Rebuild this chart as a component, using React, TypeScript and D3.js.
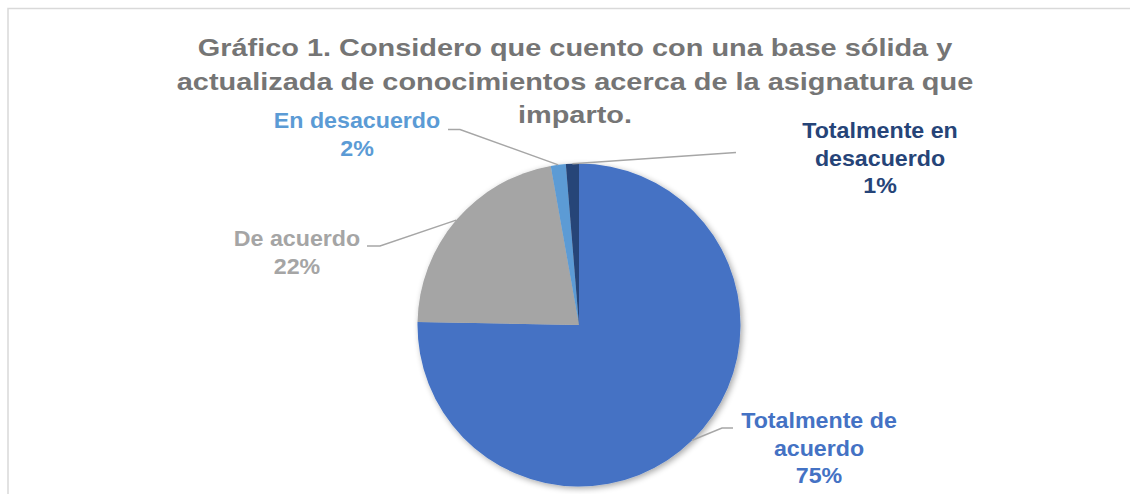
import React from "react";
import * as d3 from "d3";

const categories = ["Totalmente de acuerdo", "De acuerdo", "En desacuerdo", "Totalmente en desacuerdo"];
const values = [75.3, 21.9, 1.5, 1.3];
const percentLabels = ["75%", "22%", "2%", "1%"];
const labelLines = [["Totalmente de", "acuerdo"], ["De acuerdo"], ["En desacuerdo"], ["Totalmente en", "desacuerdo"]];
const titleLines = [
  "Gráfico 1. Considero que cuento con una base sólida y",
  "actualizada de conocimientos acerca de la asignatura que",
  "imparto.",
];

const colors = ["#4472C4", "#A5A5A5", "#5B9BD5", "#264478"];

// layout (style) for labels: center x, first baseline y, leader elbow & end near text
const labelLayout = [
  { x: 819, y: 428, elbow: [722, 428], end: [733, 428] },
  { x: 297, y: 246, elbow: [380, 246], end: [367, 246] },
  { x: 357, y: 128, elbow: [460, 129.5], end: [448, 129.5] },
  { x: 880, y: 138, elbow: [736, 152.5], end: [736, 152.5] },
];

const W = 1130;
const H = 494;
const cx = 579;
const cy = 325;
const R = 161.5;
const font = "'Liberation Sans', Arial, sans-serif";

export default function App() {
  const pie = d3.pie<number>().sort(null).value((d) => d)(values);
  const arc = d3.arc<d3.PieArcDatum<number>>().innerRadius(0).outerRadius(R);
  const edge = d3.arc<d3.PieArcDatum<number>>().innerRadius(R).outerRadius(R);

  return (
    <svg width={W} height={H} style={{ position: "absolute", left: 0, top: 0, background: "#fff" }}>
      <defs>
        <filter id="sh" x="-20%" y="-20%" width="140%" height="140%">
          <feGaussianBlur in="SourceAlpha" stdDeviation="3" />
          <feOffset dx="2" dy="2" result="o" />
          <feComponentTransfer>
            <feFuncA type="linear" slope="0.35" />
          </feComponentTransfer>
          <feMerge>
            <feMergeNode />
            <feMergeNode in="SourceGraphic" />
          </feMerge>
        </filter>
      </defs>
      <rect x={8} y={8.5} width={W + 20} height={H + 20} fill="#fff" stroke="#d9d9d9" strokeWidth={1.5} />
      {titleLines.map((t, i) => (
        <text
          key={i}
          transform={`translate(575, ${56 + i * 33.5}) scale(1.17, 1)`}
          textAnchor="middle"
          fontFamily={font}
          fontWeight="bold"
          fontSize={24.7}
          fill="#757575"
        >
          {t}
        </text>
      ))}
      <g transform={`translate(${cx}, ${cy})`} filter="url(#sh)">
        {pie.map((p, i) => (
          <path key={categories[i]} d={arc(p) || ""} fill={colors[i]} />
        ))}
      </g>
      <g transform={`translate(${cx}, ${cy})`}>
        {pie.map((p, i) => {
          const [px, py] = edge.centroid(p);
          const L = labelLayout[i];
          const pts = [
            [px + cx, py + cy],
            L.elbow,
            L.end,
          ];
          return (
            <polyline
              key={i}
              transform={`translate(${-cx}, ${-cy})`}
              points={pts.map((q) => q.join(",")).join(" ")}
              fill="none"
              stroke="#A6A6A6"
              strokeWidth={1.5}
            />
          );
        })}
      </g>
      {labelLines.map((lines, i) => {
        const L = labelLayout[i];
        const all = [...lines, percentLabels[i]];
        return all.map((t, j) => (
          <text
            key={`${i}-${j}`}
            transform={`translate(${L.x}, ${L.y + j * 27.5}) scale(1.08, 1)`}
            textAnchor="middle"
            fontFamily={font}
            fontWeight="bold"
            fontSize={21.5}
            fill={colors[i]}
          >
            {t}
          </text>
        ));
      })}
    </svg>
  );
}
